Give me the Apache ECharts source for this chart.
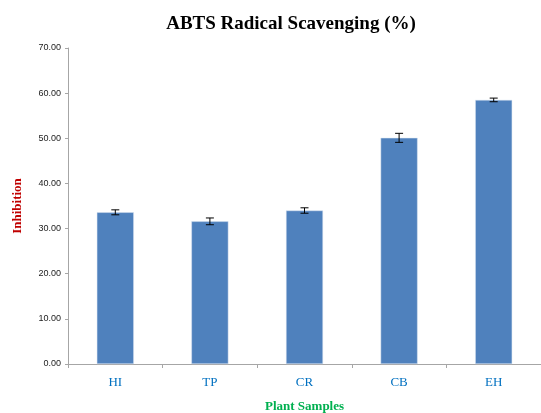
<!DOCTYPE html>
<html><head><meta charset="utf-8">
<script src="https://cdn.jsdelivr.net/npm/echarts@6/dist/echarts.min.js"></script>
<style>html,body{margin:0;padding:0;background:#fff}#c{width:541px;height:413px}</style>
</head><body><div id="c"></div>
<script>
var categories = ['HI','TP','CR','CB','EH'];
var values = [33.6, 31.6, 34.0, 50.1, 58.5];
var errors = [0.55, 0.75, 0.6, 1.0, 0.4];
var yTicks = [0,10,20,30,40,50,60,70];

var chart = echarts.init(document.getElementById('c'));
var errData = categories.map(function(c,i){return [i, values[i]-errors[i], values[i]+errors[i]];});
chart.setOption({
  animation:false,
  title:{text:'ABTS Radical Scavenging (%)',left:286,top:10,textAlign:'center',
    textStyle:{fontFamily:'Liberation Serif',fontWeight:'bold',fontSize:19,color:'#000'}},
  grid:{left:68,right:0,top:48,bottom:49,outerBoundsMode:'none',containLabel:false},
  xAxis:{type:'category',data:categories,
    axisLine:{lineStyle:{color:'#a6a6a6'}},
    axisTick:{show:true,length:4,lineStyle:{color:'#a6a6a6'}},
    axisLabel:{color:'#0070c0',fontFamily:'Liberation Serif',fontSize:13,margin:12},
    name:'Plant Samples',nameLocation:'middle',nameGap:36,
    nameTextStyle:{color:'#00b050',fontFamily:'Liberation Serif',fontWeight:'bold',fontSize:13}},
  yAxis:{type:'value',min:0,max:70,interval:10,
    axisLine:{show:true,lineStyle:{color:'#a6a6a6'}},
    axisTick:{show:true,length:3,lineStyle:{color:'#a6a6a6'}},
    splitLine:{show:false},
    axisLabel:{color:'#222',fontFamily:'Liberation Sans',fontSize:9,margin:7,
      formatter:function(v){return v.toFixed(2);}},
    name:'Inhibition',nameLocation:'middle',nameGap:44,
    nameTextStyle:{color:'#c00000',fontFamily:'Liberation Serif',fontWeight:'bold',fontSize:13}},
  series:[
    {type:'bar',data:values,barWidth:37,itemStyle:{color:'#4f81bd',borderColor:'#dbe5f1',borderWidth:0.5}},
    {type:'custom',data:errData,z:10,
     renderItem:function(params,api){
       var x=api.value(0);
       var lo=api.coord([x,api.value(1)]);
       var hi=api.coord([x,api.value(2)]);
       var w=4;
       var st={stroke:'#000',lineWidth:1};
       return {type:'group',children:[
         {type:'line',shape:{x1:hi[0],y1:hi[1],x2:lo[0],y2:lo[1]},style:st},
         {type:'line',shape:{x1:hi[0]-w,y1:hi[1],x2:hi[0]+w,y2:hi[1]},style:st},
         {type:'line',shape:{x1:lo[0]-w,y1:lo[1],x2:lo[0]+w,y2:lo[1]},style:st}
       ]};
     }}
  ]
});
</script></body></html>
